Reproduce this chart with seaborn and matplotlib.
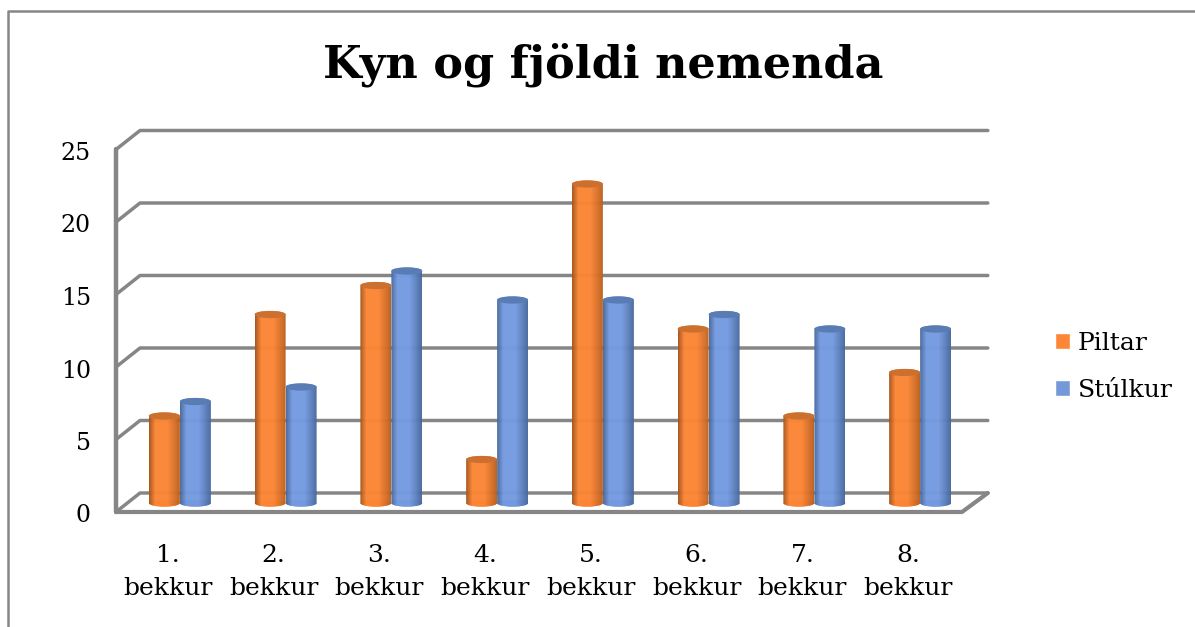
import numpy as np
import pandas as pd
import seaborn as sns
import matplotlib
matplotlib.use("Agg")
import matplotlib.pyplot as plt
from matplotlib.lines import Line2D
from matplotlib.path import Path
from matplotlib.patches import Ellipse
from matplotlib.colors import to_rgb
from matplotlib.transforms import ScaledTranslation

# ---- data ----
categories = ["1.\nbekkur", "2.\nbekkur", "3.\nbekkur", "4.\nbekkur",
              "5.\nbekkur", "6.\nbekkur", "7.\nbekkur", "8.\nbekkur"]
piltar = [6, 13, 15, 3, 22, 12, 6, 9]
stulkur = [7, 8, 16, 14, 14, 13, 12, 12]
y_ticks = [0, 5, 10, 15, 20, 25]
title = "Kyn og fjöldi nemenda"

# ---- style ----
W, H, DPI = 1195, 627, 100
GREY = "#868686"
COL = {"Piltar": "#fe8637", "Stúlkur": "#7598d9"}
SHADE = {"Piltar": ("#a3521c", "#fb8534", "#b95f1d", "#cc7030"),
         "Stúlkur": ("#466899", "#749ae0", "#47689d", "#5a7cb4")}

sns.set_theme(style="white")
plt.rcParams["font.family"] = ["DejaVu Serif"]
plt.rcParams["text.color"] = "black"

df = pd.DataFrame({
    "bekkur": categories * 2,
    "kyn": ["Piltar"] * len(piltar) + ["Stúlkur"] * len(stulkur),
    "fjoldi": piltar + stulkur,
})

fig = plt.figure(figsize=(W / DPI, H / DPI), dpi=DPI, facecolor="white")
ax = fig.add_axes([127 / W, (H - 503) / H, 846 / W, 362.5 / H])
ax.patch.set_alpha(0)
sns.barplot(data=df, x="bekkur", y="fjoldi", hue="kyn", palette=COL,
            width=62 / 105.75, gap=0, saturation=1, ax=ax)

for s in ax.spines.values():
    s.set_visible(False)
ax.set_xlabel("")
ax.set_ylabel("")

# 3D-looking walls: offsets expressed in data units
BACK_DY, FRONT_DY = 0.69, -0.62
FRONT_L, FRONT_R = -0.604, 7.396
BACK_L, BACK_R = -0.377, 7.64
lw = 2.5
kw = dict(color=GREY, lw=lw, clip_on=False, solid_capstyle="round",
          solid_joinstyle="round", zorder=0.5)
for v in y_ticks:
    ax.plot([FRONT_L, BACK_L, BACK_R],
            [v + FRONT_DY, v + BACK_DY, v + BACK_DY], **kw)
ax.plot([FRONT_L, FRONT_L], [y_ticks[0] + FRONT_DY, y_ticks[-1] + FRONT_DY],
        **{**kw, "lw": 3.2})
ax.plot([FRONT_L, FRONT_R, BACK_R],
        [y_ticks[0] + FRONT_DY, y_ticks[0] + FRONT_DY, y_ticks[0] + BACK_DY],
        **{**kw, "lw": 3.0})

# cylinder look, taken from the bars that seaborn drew
ELL = 0.25
t = np.linspace(0, np.pi, 40)
for cont, name in zip(ax.containers, COL):
    c0, c1, c2, cap = [np.array(to_rgb(c)) for c in SHADE[name]]
    xs = np.array([0, .2, .6, .82, 1])
    grad = np.array([np.interp(np.linspace(0, 1, 128), xs,
                               [c0[i], c1[i], c1[i], (c1[i] + c2[i]) / 2, c2[i]])
                     for i in range(3)]).T[None, :, :]
    for bar in cont:
        bar.set_alpha(0)
        x0, w, v = bar.get_x(), bar.get_width(), bar.get_height()
        xc = x0 + w / 2
        ax.add_patch(Ellipse((xc, 0), w, 2 * ELL, facecolor=COL[name],
                             edgecolor="none", zorder=2.9, clip_on=False))
        top = np.c_[xc + w / 2 * np.cos(t), v + ELL * np.sin(t)]
        bot = np.c_[xc - w / 2 * np.cos(t), -ELL * np.sin(t)]
        path = Path(np.r_[top, bot, top[:1]])
        im = ax.imshow(grad, extent=[x0, x0 + w, -ELL, v + ELL], aspect="auto",
                       zorder=3, interpolation="nearest", alpha=0.97)
        im.set_clip_box(fig.bbox)
        im.set_clip_path(path, transform=ax.transData)
        ax.add_patch(Ellipse((xc, v), w, 2 * ELL, facecolor=cap,
                             edgecolor="none", zorder=3.1))

ax.set_xlim(-0.5, 7.5)
ax.set_ylim(0, 25)

# tick labels
ax.set_yticks(y_ticks)
ax.tick_params(axis="both", length=0, labelcolor="black")
ax.tick_params(axis="y", pad=26, labelsize=17)
ax.tick_params(axis="x", pad=29.5, labelsize=18)
ax.set_xticks(range(len(categories)))
ax.set_xticklabels(categories, linespacing=1.55)
for lab in ax.get_xticklabels():
    lab.set_transform(lab.get_transform() +
                      ScaledTranslation(-12 / DPI, 0, fig.dpi_scale_trans))
for lab in ax.get_yticklabels():
    lab.set_transform(lab.get_transform() +
                      ScaledTranslation(0, -10.5 / DPI, fig.dpi_scale_trans))

# legend
sns.move_legend(ax, "center left", bbox_to_anchor=(1055 / W, (H - 367) / H),
                bbox_transform=fig.transFigure, frameon=False, title=None,
                fontsize=18, handlelength=0.6, handleheight=0.6,
                handletextpad=0.3, labelspacing=0.95, borderpad=0, borderaxespad=0)

fig.text(603 / W, 1 - 65 / H, title, ha="center", va="center",
         fontsize=32, fontweight="bold", color="black")

# outer frame, cut off by the picture's right and bottom edges
fig.add_artist(Line2D([8 / W, 8 / W, 1], [0, 1 - 11 / H, 1 - 11 / H],
                      color=GREY, lw=1.8, transform=fig.transFigure))

fig.savefig("out.png", dpi=DPI, facecolor="white")
